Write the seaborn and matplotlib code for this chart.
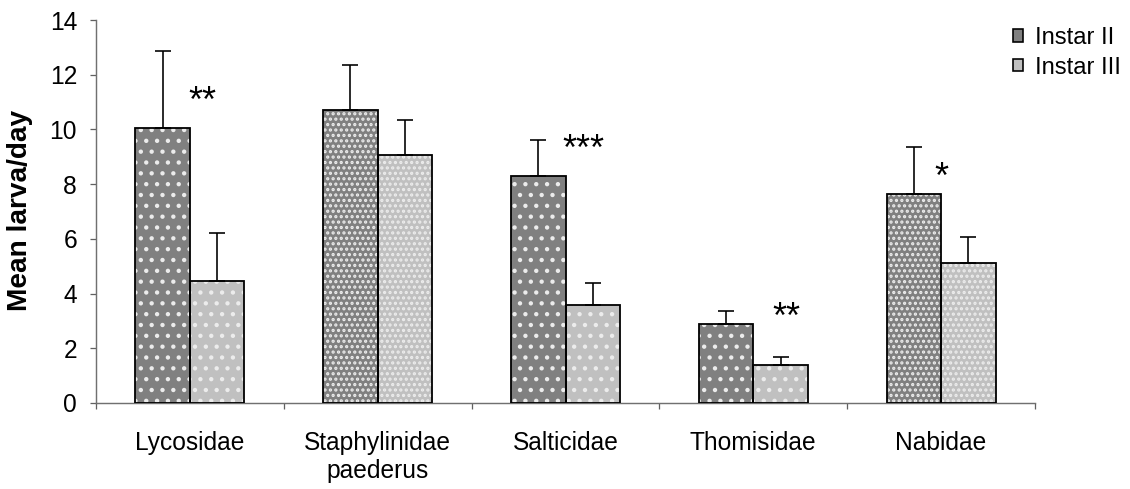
import numpy as np
import pandas as pd
import matplotlib
matplotlib.use("Agg")
import matplotlib.pyplot as plt
import seaborn as sns
from matplotlib.patches import Patch, Rectangle
from matplotlib.container import BarContainer

# ---- data ----
categories = ["Lycosidae", "Staphylinidae\npaederus", "Salticidae", "Thomisidae", "Nabidae"]
series = ["Instar II", "Instar III"]
instar2 = [10.07, 10.70, 8.28, 2.88, 7.63]
instar3 = [4.45, 9.05, 3.60, 1.38, 5.13]
err2 = [2.81, 1.64, 1.34, 0.48, 1.73]
err3 = [1.75, 1.28, 0.77, 0.29, 0.94]
signif = ["**", "", "***", "**", "*"]
signif_y = [11.39, 0.0, 9.65, 3.48, 8.61]
yticks = [0, 2, 4, 6, 8, 10, 12, 14]

# ---- style ----
sns.set_theme(style="white")
plt.rcParams["font.family"] = ["Liberation Sans", "DejaVu Sans"]
plt.rcParams["text.color"] = "black"
plt.rcParams["hatch.linewidth"] = 1.2
FS = 13.6

colors = ["#808080", "#c0c0c0"]
sig_dx = [0.065, 0.0, 0.096, 0.175, 0.0]
dense = [False, True, False, False, True]

df = pd.DataFrame({
    "category": categories * 2,
    "series": [series[0]] * len(categories) + [series[1]] * len(categories),
    "value": instar2 + instar3,
})

DPI = 130
fig = plt.figure(figsize=(1130 / DPI, 489 / DPI), dpi=DPI)
ax = fig.add_axes([96 / 1130, 1 - 403 / 489, (1035 - 96) / 1130, (403 - 20) / 489])

sns.barplot(data=df, x="category", y="value", hue="series", order=categories,
            hue_order=series, palette=colors, width=0.58, errorbar=None,
            saturation=1, legend=False, ax=ax)

bar_containers = [c for c in ax.containers if isinstance(c, BarContainer)]
errs = [err2, err3]
for ci, cont in enumerate(bar_containers):
    xs, hs = [], []
    for j, bar in enumerate(cont.patches):
        bar.set_hatch("...." if dense[j] else "..")
        bar.set_edgecolor("#ececec")
        bar.set_linewidth(0)
        ax.add_patch(Rectangle((bar.get_x(), bar.get_y()), bar.get_width(), bar.get_height(),
                               fill=False, edgecolor="black", linewidth=1.0, zorder=3))
        xs.append(bar.get_x() + bar.get_width() / 2)
        hs.append(bar.get_height())
    ax.errorbar(xs, hs, yerr=[np.zeros(len(hs)), errs[ci]], fmt="none", ecolor="black",
                elinewidth=0.9, capsize=4.2, capthick=0.9, zorder=2)

SIG_FS = 20
for j, s in enumerate(signif):
    if s:
        ax.text(j + sig_dx[j], signif_y[j] - 0.75, s, ha="center", va="baseline",
                fontsize=SIG_FS, color="black")

ax.set_xlim(-0.5, len(categories) - 0.5)
ax.set_ylim(0, 14)
ax.set_yticks(yticks)
ax.set_yticklabels([str(t) for t in yticks], fontsize=FS, color="black")
ax.set_xticks(range(len(categories)))
ax.set_xticklabels(categories, fontsize=FS, color="black")
ax.set_xticks(np.arange(-0.5, len(categories), 1.0), minor=True)
ax.tick_params(axis="x", which="major", length=0, pad=15.5)
ax.tick_params(axis="x", which="minor", length=3.5, width=0.7, color="#606060", direction="out", bottom=True)
ax.tick_params(axis="y", which="major", length=3.5, width=0.7, color="#606060", direction="out", left=True, pad=7)
ax.set_xlabel("")
ax.set_ylabel("Mean larva/day", fontsize=15.5, fontweight="bold", color="black")
ax.yaxis.set_label_coords(-0.067, 0.504)

for side in ["top", "right"]:
    ax.spines[side].set_visible(False)
for side in ["left", "bottom"]:
    ax.spines[side].set_color("#707070")
    ax.spines[side].set_linewidth(0.8)

handles = [Patch(facecolor=c, edgecolor="black", linewidth=0.9) for c in colors]
fig.legend(handles, series, loc="upper left", bbox_to_anchor=(1013 / 1130, 1 - 27 / 489),
           frameon=False, fontsize=13.2, handlelength=0.42, handleheight=0.42,
           handletextpad=0.5, labelspacing=0.32, borderpad=0, borderaxespad=0,
           labelcolor="black")

fig.savefig("out.png", dpi=DPI)
